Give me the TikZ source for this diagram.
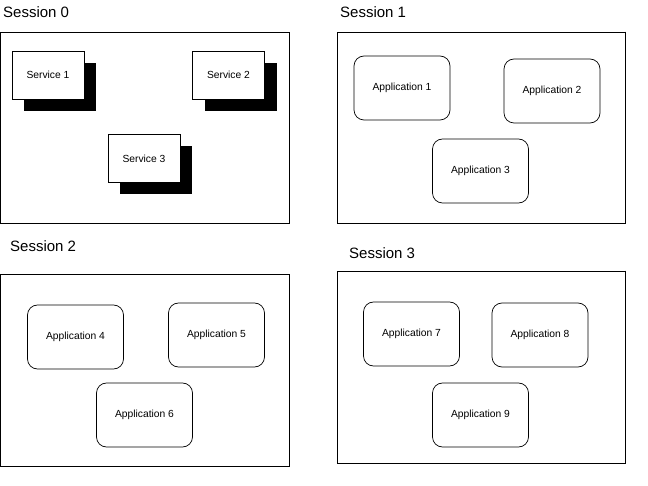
\documentclass[tikz,border=0pt]{standalone}
\usepackage{fontspec}
\setmainfont{Liberation Sans}
\usetikzlibrary{shadows}

\begin{document}
\begin{tikzpicture}[x=1pt, y=-1pt,
    session/.style={draw, line width=0.9pt, inner sep=0pt},
    title/.style={anchor=base west, inner sep=0pt, font=\fontsize{15}{18}\selectfont},
    service/.style={draw, fill=white, line width=0.6pt, inner sep=0pt, minimum width=72pt, minimum height=48pt,
        font=\fontsize{10.3}{12}\selectfont,
        general shadow={fill=black, shadow xshift=12pt, shadow yshift=-12pt}},
    app/.style={draw, rounded corners=10pt, line width=0.7pt, inner sep=0pt, minimum width=96pt, minimum height=64pt,
        font=\fontsize{10.3}{12}\selectfont}]
\useasboundingbox (0, 0) rectangle (648, 486);
% session frames
\node[session, minimum width=288.5pt, minimum height=191pt] (Session0) at (144.75, 127.5) {};
\node[session, minimum width=288pt, minimum height=191pt] (Session1) at (481, 127.5) {};
\node[session, minimum width=288.5pt, minimum height=192pt] (Session2) at (144.75, 370) {};
\node[session, minimum width=288pt, minimum height=192pt] (Session3) at (481, 367) {};
\draw[line width=1.8pt] (Session1.north east) -- (Session1.south east);
\draw[line width=1.8pt] (Session3.north east) -- (Session3.south east);
    \node[title] (Title0) at (3, 18) {Session 0};
    \node[title] (Title1) at (340, 18) {Session 1};
    \node[title] (Title2) at (10, 252) {Session 2};
    \node[title] (Title3) at (349, 259) {Session 3};
% session 0: services
\node[service] (Service1) at (48, 75) {Service 1};
\node[service] (Service2) at (228.5, 75) {Service 2};
\node[service] (Service3) at (144, 158.5) {Service 3};
% sessions 1-3: applications
\node[app] (App1) at (402, 88) {Application 1};
\node[app] (App2) at (552, 91) {Application 2};
\node[app] (App3) at (480.5, 171) {Application 3};
\node[app] (App4) at (75.5, 337) {Application 4};
\node[app] (App5) at (216.5, 335) {Application 5};
\node[app] (App6) at (144.5, 415) {Application 6};
\node[app] (App7) at (411.5, 334) {Application 7};
\node[app] (App8) at (540, 335) {Application 8};
\node[app] (App9) at (480.5, 415) {Application 9};
\end{tikzpicture}
\end{document}
